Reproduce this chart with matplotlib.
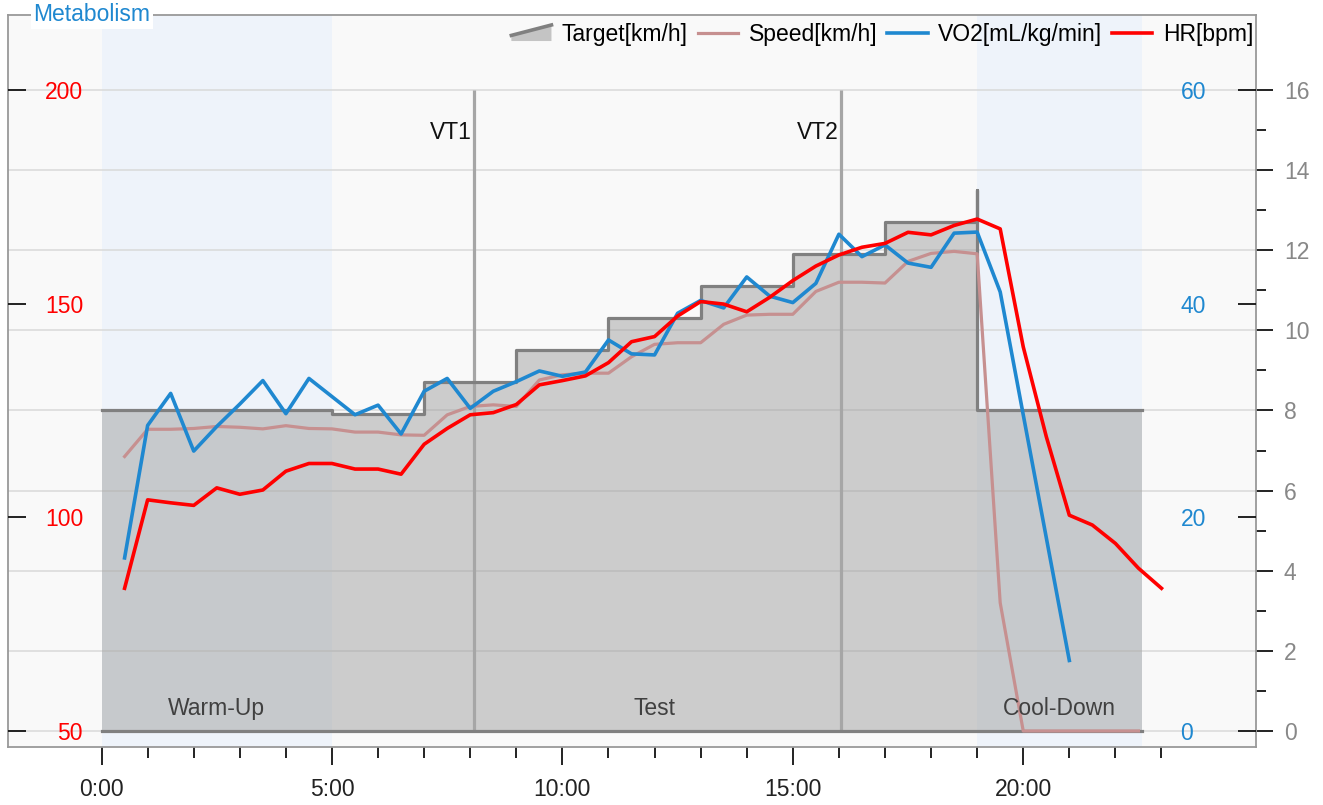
import matplotlib
matplotlib.use('Agg')
import matplotlib.pyplot as plt
from matplotlib.ticker import FixedLocator, FuncFormatter
from matplotlib.legend_handler import HandlerBase
from matplotlib.patches import Polygon
from matplotlib.lines import Line2D

plt.rcParams['font.family'] = ['Liberation Sans', 'DejaVu Sans']

# ---- data (time in minutes) ----
target_t = [0, 5, 7, 9, 11, 13, 15, 17, 19, 19, 22.58]
target_kmh = [8.0, 7.9, 8.7, 9.5, 10.3, 11.1, 11.9, 12.7, 13.5, 8.0, 8.0]

speed_t = [0.5, 1, 1.5, 2, 2.5, 3, 3.5, 4, 4.5, 5, 5.5, 6, 6.5, 7, 7.5, 8, 8.5, 9, 9.5, 10, 10.5, 11,
           11.5, 12, 12.5, 13, 13.5, 14, 14.5, 15, 15.5, 16, 16.5, 17, 17.5, 18, 18.5, 19, 19.5, 20,
           20.5, 21, 21.5, 22, 22.5]
speed_kmh = [6.85, 7.53, 7.53, 7.55, 7.6, 7.58, 7.54, 7.62, 7.55, 7.54, 7.46, 7.46, 7.39, 7.38, 7.89,
             8.1, 8.14, 8.1, 8.76, 8.89, 8.93, 8.93, 9.34, 9.65, 9.69, 9.69, 10.15, 10.38, 10.4, 10.4,
             10.97, 11.2, 11.2, 11.18, 11.72, 11.92, 11.97, 11.91, 3.2, 0, 0, 0, 0, 0, 0]

vo2_t = [0.5, 1, 1.5, 2, 2.5, 3, 3.5, 4, 4.5, 5, 5.5, 6, 6.5, 7, 7.5, 8, 8.5, 9, 9.5, 10, 10.5, 11,
         11.5, 12, 12.5, 13, 13.5, 14, 14.5, 15, 15.5, 16, 16.5, 17, 17.5, 18, 18.5, 19, 19.5, 20,
         20.5, 21]
vo2 = [16.2, 28.6, 31.6, 26.2, 28.5, 30.6, 32.8, 29.7, 33.0, 31.3, 29.6, 30.5, 27.8, 31.8, 33.0,
       30.2, 31.8, 32.7, 33.7, 33.2, 33.6, 36.6, 35.3, 35.2, 39.1, 40.3, 39.6, 42.5, 40.7, 40.1,
       41.9, 46.5, 44.4, 45.5, 43.8, 43.4, 46.6, 46.7, 41.1, 29.6, 18.1, 6.6]

hr_t = [0.5, 1, 1.5, 2, 2.5, 3, 3.5, 4, 4.5, 5, 5.5, 6, 6.5, 7, 7.5, 8, 8.5, 9, 9.5, 10, 10.5, 11,
        11.5, 12, 12.5, 13, 13.5, 14, 14.5, 15, 15.5, 16, 16.5, 17, 17.5, 18, 18.5, 19, 19.5, 20,
        20.5, 21, 21.5, 22, 22.5, 23]
hr = [83.4, 104.1, 103.4, 102.8, 106.9, 105.4, 106.4, 110.8, 112.6, 112.6, 111.3, 111.3, 110.1,
      117.1, 120.8, 124.0, 124.5, 126.4, 131.0, 132.0, 133.1, 136.2, 141.1, 142.3, 147.1, 150.5,
      149.9, 148.1, 151.5, 155.4, 158.8, 161.4, 163.2, 164.1, 166.7, 166.1, 168.3, 169.8, 167.5,
      139.9, 118.9, 100.5, 98.2, 93.9, 88.1, 83.4]

phase_names = ['Warm-Up', 'Test', 'Cool-Down']
phase_start = [0, 5, 19]
phase_end = [5, 19, 22.58]
phase_shaded = [True, False, True]

vt_names = ['VT1', 'VT2']
vt_t = [8.08, 16.05]

legend_labels = ['Target[km/h]', 'Speed[km/h]', 'VO2[mL/kg/min]', 'HR[bpm]']

BLUE = '#1f88d0'
RED = '#ff0000'
GRAY = '#808080'
FS = 16.5


class RampHandler(HandlerBase):
    # wedge shaped legend key for the target profile
    def create_artists(self, legend, orig_handle, xdescent, ydescent, width, height, fontsize, trans):
        x0, y0 = -xdescent, -ydescent
        ramp = Polygon([[x0, y0], [x0 + width, y0], [x0 + width, y0 + height], [x0, y0 + 0.35 * height]],
                       closed=True, facecolor='#c4c4c4', edgecolor='none', transform=trans)
        edge = Line2D([x0, x0 + width], [y0 + 0.35 * height, y0 + height], color=GRAY, lw=2.6, transform=trans)
        return [ramp, edge]


fig = plt.figure(figsize=(13.23, 8.05), dpi=100)
ax = fig.add_axes([0.00605, 0.07205, 0.94293, 0.90932])
ax.set_facecolor('#f9f9f9')
ax_vo2 = ax.twinx()
ax_hr = ax.twinx()

# phases
for name, start, end, shaded in zip(phase_names, phase_start, phase_end, phase_shaded):
    if shaded:
        ax.axvspan(start, end, color='#eef3fa', lw=0, zorder=0.1)
    ax.text((start + end) / 2, 0.053, name, transform=ax.get_xaxis_transform(),
            ha='center', va='center', fontsize=FS, color='#404040', zorder=6)

# target profile + speed
ax.fill_between(target_t, 0, target_kmh, step='post', color='#a0a0a0', alpha=0.5, lw=0, zorder=1)
target_line, = ax.plot(target_t, target_kmh, drawstyle='steps-post', color=GRAY, lw=2.3, zorder=3)
ax.plot([target_t[0], target_t[-1]], [0, 0], color=GRAY, lw=2.3, zorder=3)
speed_line, = ax.plot(speed_t, speed_kmh, color='#c69090', lw=2.3, zorder=4)

# ventilatory thresholds
ax.vlines(vt_t, 0, 16, color='#a6a6a6', lw=2.3, zorder=2.5)
for name, t in zip(vt_names, vt_t):
    ax.annotate(name, xy=(t, 0.839), xycoords=ax.get_xaxis_transform(), xytext=(-1.5, 0),
                textcoords='offset points', ha='right', va='center', fontsize=FS, color='#111111')

vo2_line, = ax_vo2.plot(vo2_t, vo2, color=BLUE, lw=2.6)
hr_line, = ax_hr.plot(hr_t, hr, color=RED, lw=2.6)

# x axis
ax.set_xlim(-2.03, 25.04)
ax.xaxis.set_major_locator(FixedLocator([0, 5, 10, 15, 20]))
ax.xaxis.set_minor_locator(FixedLocator(list(range(0, 24))))
ax.xaxis.set_major_formatter(FuncFormatter(lambda m, pos: f"{int(m)}:00"))
ax.tick_params(axis='x', which='major', direction='out', length=13, width=1.3, pad=9,
               labelsize=FS, color='#111111', labelcolor='#222222')
ax.tick_params(axis='x', which='minor', direction='out', length=8, width=1.3, color='#111111')

# speed axis (right, outside)
ax.set_ylim(-0.40, 17.87)
ax.yaxis.tick_right()
ax.yaxis.set_major_locator(FixedLocator(list(range(0, 17, 2))))
ax.yaxis.set_minor_locator(FixedLocator(list(range(1, 17, 2))))
ax.tick_params(axis='y', which='major', direction='out', length=12.5, width=1.3, pad=8,
               labelsize=FS, color='#111111', labelcolor='#888888')
ax.tick_params(axis='y', which='minor', direction='out', length=7, width=1.3, color='#111111')
ax.grid(axis='y', which='major', color='#d9d9d9', lw=1.1)
ax.set_axisbelow(True)

# VO2 axis (right, inside)
ax_vo2.set_ylim(-1.50, 67.02)
ax_vo2.yaxis.set_major_locator(FixedLocator([0, 20, 40, 60]))
ax_vo2.tick_params(axis='y', direction='in', length=13, width=1.3, pad=-54,
                   labelsize=FS, color='#111111', labelcolor=BLUE)

# HR axis (left, inside)
ax_hr.set_ylim(46.26, 217.55)
ax_hr.yaxis.set_ticks_position('left')
ax_hr.yaxis.set_label_position('left')
ax_hr.yaxis.set_major_locator(FixedLocator([50, 100, 150, 200]))
ax_hr.tick_params(axis='y', direction='in', length=13, width=1.3, pad=-54,
                  labelsize=FS, color='#111111', labelcolor=RED)

for a in (ax, ax_vo2, ax_hr):
    for s in a.spines.values():
        s.set_color('#999999')
        s.set_linewidth(1.3)
for a in (ax_vo2, ax_hr):
    for s in a.spines.values():
        s.set_visible(False)

ax_hr.text(0.0205, 1.0, 'Metabolism', transform=ax_hr.transAxes, ha='left', va='center',
           fontsize=FS, color=BLUE, zorder=10, clip_on=False,
           bbox=dict(facecolor='white', edgecolor='none', pad=2))

ax_hr.legend([target_line, speed_line, vo2_line, hr_line], legend_labels,
             handler_map={target_line: RampHandler()}, loc='upper right',
             bbox_to_anchor=(1.0045, 1.0), ncol=4,
             frameon=False, fontsize=FS, handlelength=1.75, handletextpad=0.45,
             columnspacing=0.45, borderaxespad=0.05, borderpad=0.3)

fig.savefig('out.png', dpi=100)
